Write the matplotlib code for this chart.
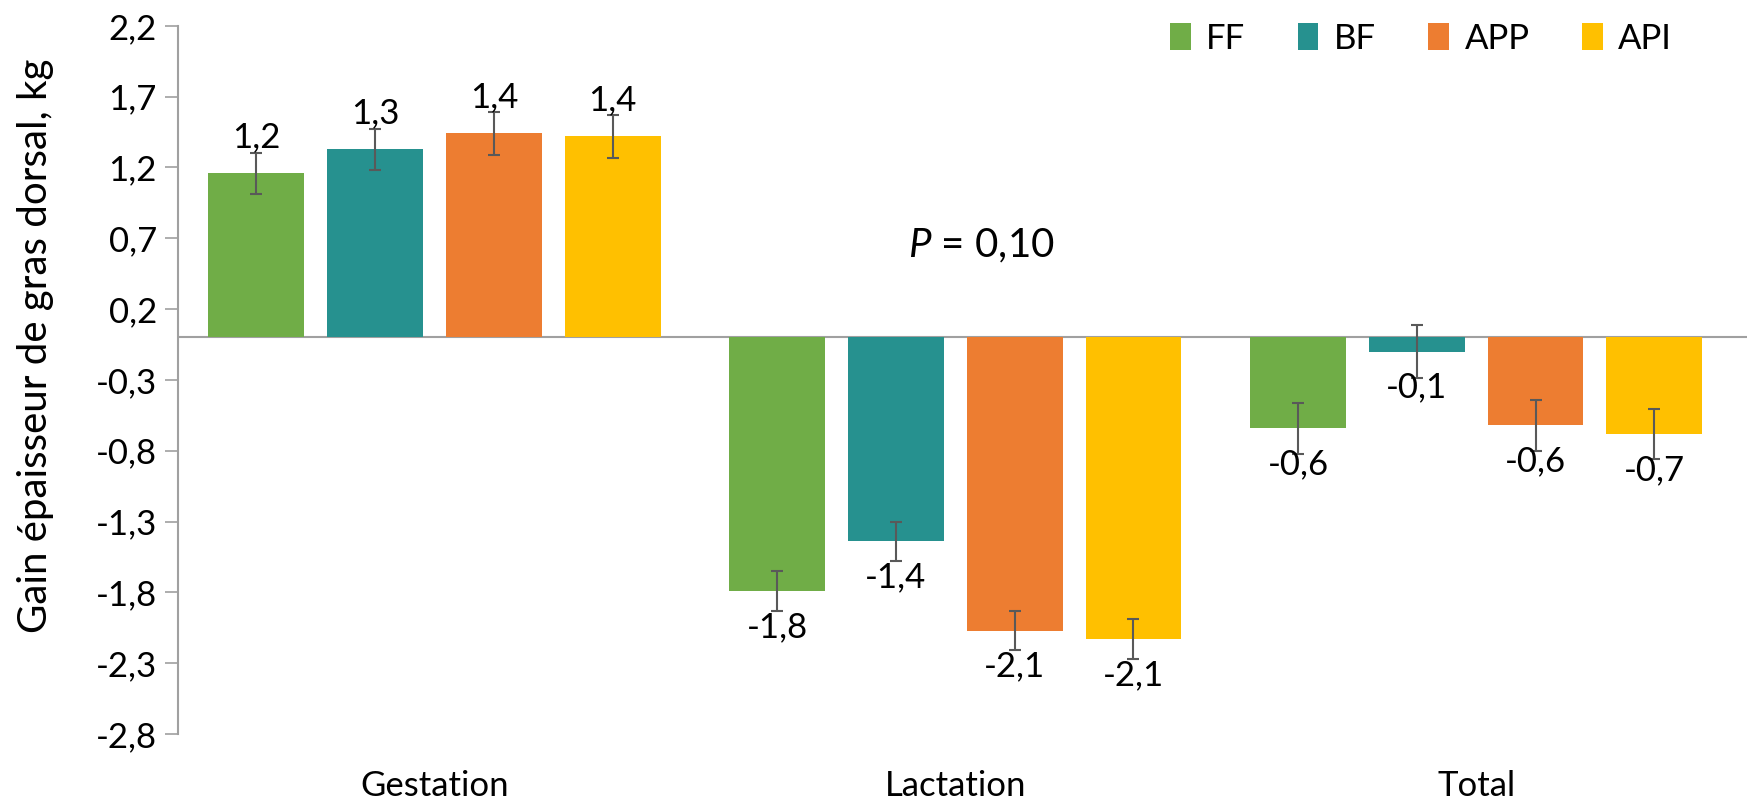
import matplotlib
matplotlib.use("Agg")
import matplotlib.pyplot as plt
import numpy as np

# Gain d'épaisseur de gras dorsal par période et par traitement
periodes = ["Gestation", "Lactation", "Total"]
traitements = ["FF", "BF", "APP", "API"]
couleurs = ["#70AD47", "#26918F", "#ED7D31", "#FFC000"]

ff = [1.16, -1.79, -0.64]
bf = [1.33, -1.44, -0.10]
app = [1.44, -2.07, -0.62]
api = [1.42, -2.13, -0.68]

ff_err = [0.145, 0.14, 0.18]
bf_err = [0.145, 0.14, 0.185]
app_err = [0.15, 0.14, 0.18]
api_err = [0.15, 0.14, 0.177]

yticks = [2.2, 1.7, 1.2, 0.7, 0.2, -0.3, -0.8, -1.3, -1.8, -2.3, -2.8]
p_texte = "$P$ = 0,10"

plt.rcParams["font.family"] = ["Lato", "DejaVu Sans"]
plt.rcParams["mathtext.fontset"] = "custom"
plt.rcParams["mathtext.it"] = "Lato:italic"
plt.rcParams["mathtext.rm"] = "Lato"


def virgule(v):
    return ("%.1f" % v).replace(".", ",")


def main():
    fig = plt.figure(figsize=(17.47, 8.07), dpi=100)
    ax = fig.add_axes([0.102, 0.0905, 0.898, 0.8775])

    series = [ff, bf, app, api]
    erreurs = [ff_err, bf_err, app_err, api_err]
    x = np.arange(len(periodes))
    largeur = 0.184
    pas = 0.228

    for i, (vals, errs) in enumerate(zip(series, erreurs)):
        pos = x + (i - 1.5) * pas
        ax.bar(pos, vals, largeur, color=couleurs[i], label=traitements[i], zorder=2)
        ax.errorbar(pos, vals, yerr=errs, fmt="none", ecolor="#595959",
                    elinewidth=1.5, capsize=4.3, capthick=1.5, zorder=3)
        for xp, v in zip(pos, vals):
            dy = 26 if v >= 0 else -26
            ax.annotate(virgule(v), (xp, v), xytext=(0, dy),
                        textcoords="offset points", ha="center", va="center",
                        fontsize=25, zorder=4)

    ax.axhline(0, color="#A0A0A0", lw=1.5, zorder=1)
    ax.set_xlim(-0.492, 2.52)
    ax.set_ylim(-2.8, 2.2)
    ax.set_yticks(yticks)
    ax.set_yticklabels([virgule(t) for t in yticks])
    ax.set_xticks(x)
    ax.set_xticklabels(periodes)
    ax.tick_params(axis="x", length=0, pad=26, labelsize=25)
    ax.tick_params(axis="y", length=9.4, width=1.2, color="#A0A0A0",
                   pad=6, labelsize=25)

    for s in ["top", "right", "bottom"]:
        ax.spines[s].set_visible(False)
    ax.spines["left"].set_color("#A0A0A0")
    ax.spines["left"].set_linewidth(1.5)

    ax.text(1.05, 0.645, p_texte, ha="center", va="center", fontsize=29)

    fig.text(0.0206, 0.572, "Gain épaisseur de gras dorsal, kg",
             rotation=90, ha="center", va="center", fontsize=29)

    ax.legend(loc="center right", bbox_to_anchor=(0.975, 0.952),
              bbox_transform=fig.transFigure, ncol=4, frameon=False,
              fontsize=25, handlelength=0.6, handleheight=0.8,
              handletextpad=0.45, columnspacing=1.5)

    fig.savefig("out.png", dpi=100)


if __name__ == "__main__":
    main()
